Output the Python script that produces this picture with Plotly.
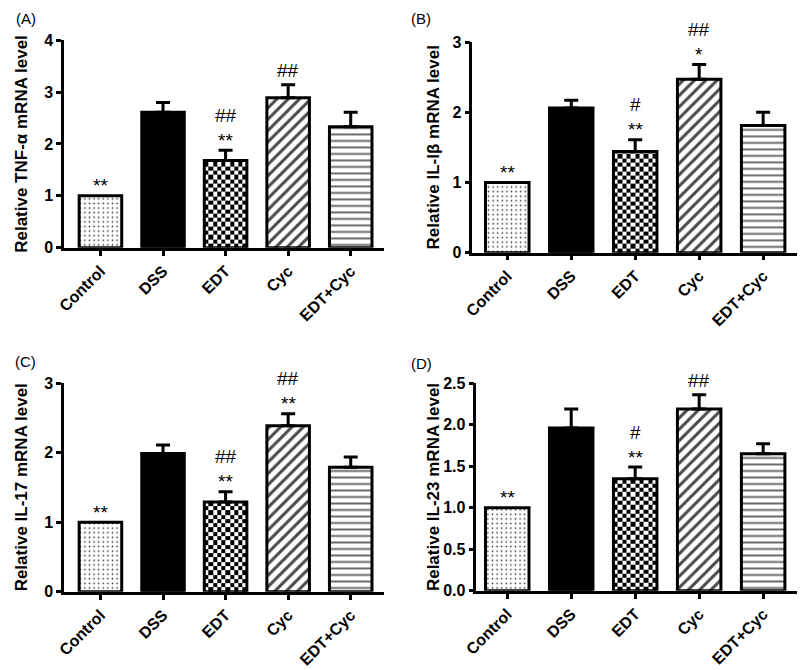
import numpy as np
import plotly.graph_objects as go

W, H = 800, 670

categories = ["Control", "DSS", "EDT", "Cyc", "EDT+Cyc"]

tnf_values = [1.0, 2.61, 1.68, 2.89, 2.33]
tnf_errors = [0.0, 0.19, 0.20, 0.25, 0.28]
il1b_values = [1.0, 2.06, 1.44, 2.47, 1.81]
il1b_errors = [0.0, 0.11, 0.17, 0.21, 0.19]
il17_values = [1.0, 1.99, 1.29, 2.39, 1.79]
il17_errors = [0.0, 0.12, 0.15, 0.17, 0.15]
il23_values = [1.0, 1.96, 1.35, 2.19, 1.65]
il23_errors = [0.0, 0.23, 0.14, 0.17, 0.12]

tnf_marks = [["**"], [], ["**", "##"], ["##"], []]
il1b_marks = [["**"], [], ["**", "#"], ["*", "##"], []]
il17_marks = [["**"], [], ["**", "##"], ["**", "##"], []]
il23_marks = [["**"], [], ["**", "#"], ["##"], []]

titles = ["Relative TNF-α mRNA level", "Relative IL-Iβ mRNA level",
          "Relative IL-17 mRNA level", "Relative IL-23 mRNA level"]
panel_labels = ["(A)", "(B)", "(C)", "(D)"]
y_ticks = [[0, 1, 2, 3, 4], [0, 1, 2, 3], [0, 1, 2, 3], [0, 0.5, 1.0, 1.5, 2.0, 2.5]]
y_ticktext = [["0", "1", "2", "3", "4"], ["0", "1", "2", "3"], ["0", "1", "2", "3"],
              ["0.0", "0.5", "1.0", "1.5", "2.0", "2.5"]]

FONT = "Arial, Liberation Sans, sans-serif"
BAR_W = 0.68

# bar styles per category
bar_fill = ["white", "black", "rgba(0,0,0,0)", "white", "white"]
bar_shape = [".", "", "", "/", "-"]
bar_fg = ["#333333", "black", "black", "#4a4a4a", "#6a6a6a"]
bar_psize = [4.6, 8, 8, 8, 6.5]
bar_solid = [0.1, 0.3, 0.3, 0.38, 0.3]

# panel geometry in pixels: (x0, x1, ytop, ybottom, xrange, ymax)
panels = [
    (52, 377, 33, 246, [-0.58, 4.53], 4.0),
    (467, 797, 35, 251, [-0.545, 4.53], 3.0),
    (52, 377, 385, 599, [-0.58, 4.53], 3.0),
    (471, 797, 385, 598, [-0.483, 4.53], 2.5),
]
label_pos = [(13, 11), (415, 11), (13, 363), (415, 365)]
title_x = [9, 427, 9, 427]

values_all = [tnf_values, il1b_values, il17_values, il23_values]
errors_all = [tnf_errors, il1b_errors, il17_errors, il23_errors]
marks_all = [tnf_marks, il1b_marks, il17_marks, il23_marks]

fig = go.Figure()
annotations = []
layout_axes = {}

for k, (x0, x1, yt, yb, xr, ymax) in enumerate(panels):
    sfx = "" if k == 0 else str(k + 1)
    xa, ya = "x" + sfx, "y" + sfx
    vals, errs, marks = values_all[k], errors_all[k], marks_all[k]
    xs = list(range(len(categories)))

    ppx = (x1 - x0) / (xr[1] - xr[0])
    ppy = (yb - yt) / ymax

    # checkerboard fill for EDT bar
    ci = 2
    cell = 4.4
    nx = max(1, int(round(BAR_W * ppx / cell)))
    xe = np.linspace(ci - BAR_W / 2, ci + BAR_W / 2, nx + 1)
    step = cell / ppy
    ye = list(np.arange(0, vals[ci], step))
    ye.append(vals[ci])
    ny = len(ye) - 1
    z = [[(i + j) % 2 for j in range(nx)] for i in range(ny)]
    fig.add_trace(go.Heatmap(x=xe, y=ye, z=z, xaxis=xa, yaxis=ya,
                             colorscale=[[0, "white"], [1, "black"]], zmin=0, zmax=1,
                             showscale=False, hoverinfo="skip", zsmooth=False))

    for i in xs:
        pat = dict(shape=bar_shape[i], fgcolor=bar_fg[i], bgcolor=bar_fill[i],
                   fgopacity=1, size=bar_psize[i], solidity=bar_solid[i],
                   fillmode="overlay") if bar_shape[i] else dict(shape="")
        fig.add_trace(go.Bar(
            x=[i], y=[vals[i]], width=BAR_W, xaxis=xa, yaxis=ya,
            marker=dict(color=bar_fill[i], line=dict(color="black", width=3),
                        pattern=pat),
            error_y=dict(type="data", symmetric=False, array=[errs[i]],
                         arrayminus=[0], color="black", thickness=3, width=7,
                         visible=errs[i] > 0),
            showlegend=False, hoverinfo="skip",
        ))

    layout_axes["xaxis" + sfx] = dict(
        domain=[x0 / W, x1 / W], range=xr, anchor=ya,
        tickvals=xs, ticktext=categories, tickangle=-45,
        showline=True, linecolor="black", linewidth=2.5,
        ticks="outside", ticklen=5, tickwidth=2.5, tickcolor="black",
        showgrid=False, zeroline=False,
        tickfont=dict(family=FONT, size=16, color="black", weight="bold"),
    )
    layout_axes["yaxis" + sfx] = dict(
        domain=[1 - yb / H, 1 - yt / H], range=[0, ymax], anchor=xa,
        tickvals=y_ticks[k], ticktext=y_ticktext[k],
        showline=True, linecolor="black", linewidth=2.5,
        ticks="outside", ticklen=5, tickwidth=2.5, tickcolor="black",
        showgrid=False, zeroline=False,
        tickfont=dict(family=FONT, size=16, color="black", weight="bold"),
    )

    # significance marks
    for i, mlist in enumerate(marks):
        for r, m in enumerate(mlist):
            shift = [14, 35][r]
            if m.startswith("*"):
                shift -= 4
            annotations.append(dict(
                x=i, y=vals[i] + errs[i], xref=xa, yref=ya, text=m,
                showarrow=False, yanchor="middle", yshift=shift,
                font=dict(family=FONT, size=19, color="black"),
            ))

    # y title
    annotations.append(dict(
        x=title_x[k] / W, y=1 - (yt + yb) / 2 / H, xref="paper", yref="paper",
        text=titles[k], textangle=-90, showarrow=False,
        xanchor="center", yanchor="middle",
        font=dict(family=FONT, size=17, color="black", weight="bold"),
    ))
    # panel label
    lx, ly = label_pos[k]
    annotations.append(dict(
        x=lx / W, y=1 - ly / H, xref="paper", yref="paper", text=panel_labels[k],
        showarrow=False, xanchor="center", yanchor="middle",
        font=dict(family=FONT, size=15, color="black"),
    ))

fig.update_layout(
    width=W, height=H, margin=dict(l=0, r=0, t=0, b=0),
    paper_bgcolor="white", plot_bgcolor="white", barmode="overlay",
    showlegend=False, annotations=annotations, **layout_axes,
)

fig.write_html("out.html", config={"displayModeBar": False},
               post_script="document.body.style.margin='0';document.body.style.overflow='hidden';")
